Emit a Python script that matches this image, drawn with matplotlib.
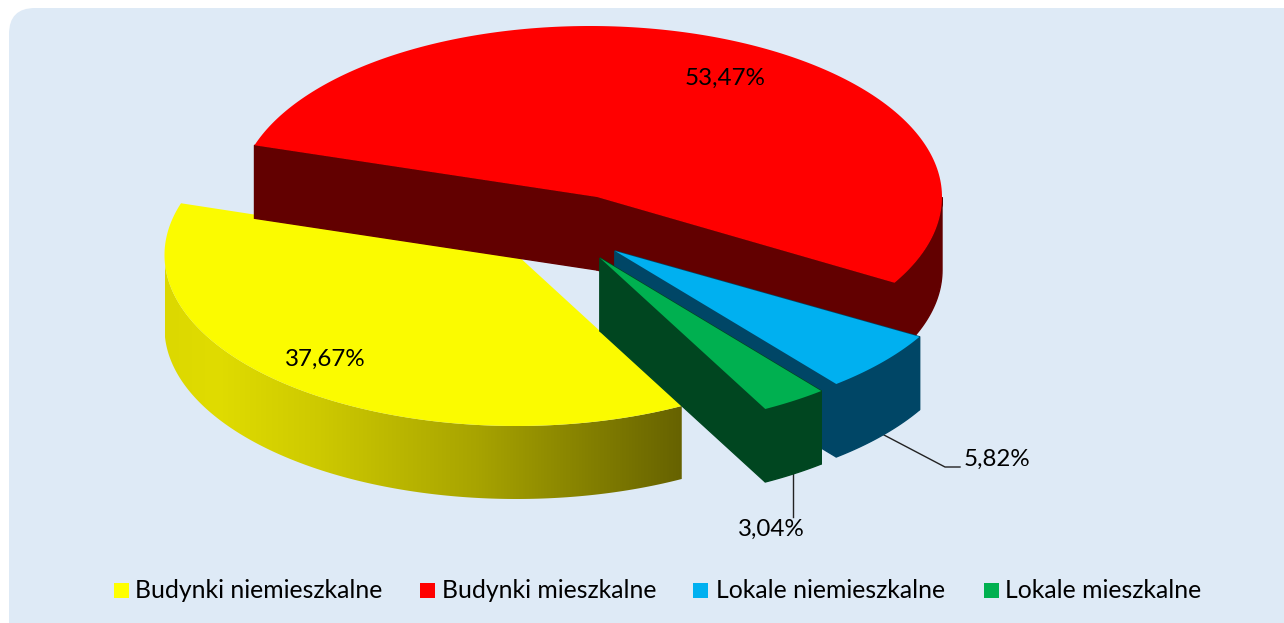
import matplotlib.pyplot as plt
import numpy as np
from matplotlib.colors import LinearSegmentedColormap
from matplotlib.patches import FancyBboxPatch, Polygon, Rectangle

W, H = 1284, 623

# data
categories = ['Budynki niemieszkalne', 'Budynki mieszkalne', 'Lokale niemieszkalne', 'Lokale mieszkalne']
shares = [37.67, 53.47, 5.82, 3.04]
share_labels = ['37,67%', '53,47%', '5,82%', '3,04%']

# styling
top_colors = ['#fbfb00', '#ff0000', '#00b0f0', '#00b050']
wall_colors = [None, '#620000', '#004666', '#004620']
legend_colors = ['#ffff00', '#ff0000', '#00b0f0', '#00b050']
apexes = [(517, 255), (597, 197), (615, 251), (600, 258)]  # exploded slice tips, pixels
centers = [(516.5, 255), (590, 197), (615, 251), (600, 258)]  # rim centres, pixels
label_pos = [(325, 359), (725, 78), (997, 459), (771, 529)]
legend_box_x = [114, 420, 693, 984]
legend_text_x = [135, 442, 716, 1005]

RX, RY = 352, 171
DEPTH = 73
START = 152.0  # clockwise from 12 o'clock, first slice

yellow_wall = LinearSegmentedColormap.from_list(
    'yellow_wall', [(0, '#dcd800'), (0.1, '#e0dc00'), (0.3, '#cdc900'), (0.6, '#a8a400'), (1, '#666200')])


def rim(center, a0, a1, n=200):
    t = np.radians(np.linspace(a0, a1, n))
    return center[0] + RX * np.sin(t), center[1] - RY * np.cos(t)


fig = plt.figure(figsize=(W / 100, H / 100), dpi=100)
ax = fig.add_axes([0, 0, 1, 1])
ax.set_xlim(0, W)
ax.set_ylim(H, 0)
ax.axis('off')

ax.add_patch(FancyBboxPatch((9 + 26, 8 + 26), W - 9 + 30 - 52, H - 8 + 30 - 52,
                            boxstyle='round,pad=26', facecolor='#deeaf6', edgecolor='none'))

angles = START + np.cumsum([0] + shares) * 3.6
for i in [1, 2, 3, 0]:  # back slices first, the yellow one hides the red wall
    a0, a1 = angles[i], angles[i + 1]
    apex = apexes[i]
    x, y = rim(centers[i], a0, a1)
    deg = np.linspace(a0, a1, 200)
    if wall_colors[i] is None:
        # outer wall with the horizontal shading
        keep = deg < 270
        wx, wy = x[keep], y[keep]
        verts = np.column_stack([np.r_[wx, wx[::-1]], np.r_[wy, wy[::-1] + DEPTH]])
        clip = Polygon(verts, facecolor='none', edgecolor='none')
        ax.add_patch(clip)
        im = ax.imshow(np.linspace(0, 1, 256)[None, :], cmap=yellow_wall, aspect='auto', zorder=1.5 + i,
                       extent=[wx.min(), wx.max(), wy.max() + DEPTH, wy.min()])
        im.set_clip_path(clip)
        ax.set_xlim(0, W)
        ax.set_ylim(H, 0)
    else:
        # cut faces and outer wall
        for ex, ey in [(x[0], y[0]), (x[-1], y[-1])]:
            ax.add_patch(Polygon([apex, (ex, ey), (ex, ey + DEPTH), (apex[0], apex[1] + DEPTH)],
                                 facecolor=wall_colors[i], edgecolor=wall_colors[i], lw=1, zorder=1.5 + i))
        vis = np.cos(np.radians(deg)) <= 0
        wx, wy = x[vis], y[vis]
        ax.add_patch(Polygon(np.column_stack([np.r_[wx, wx[::-1]], np.r_[wy, wy[::-1] + DEPTH]]),
                             facecolor=wall_colors[i], edgecolor=wall_colors[i], lw=1, zorder=1.5 + i))
    ax.add_patch(Polygon(np.column_stack([np.r_[apex[0], x], np.r_[apex[1], y]]),
                         facecolor=top_colors[i], edgecolor='none', zorder=1.6 + i))

# leader lines
ax.plot([884, 945, 960], [435, 467, 467], color='#222222', lw=1, zorder=2)
ax.plot([793, 793], [472, 517], color='#222222', lw=1, zorder=2)

for lab, (lx, ly) in zip(share_labels, label_pos):
    ax.text(lx, ly, lab, ha='center', va='center', fontsize=17.4, family='Lato', color='black', zorder=10)

for name, col, bx, tx in zip(categories, legend_colors, legend_box_x, legend_text_x):
    ax.add_patch(Rectangle((bx, 583), 15, 15, facecolor=col, edgecolor='none', zorder=10))
    ax.text(tx, 591, name, ha='left', va='center', fontsize=17.8, family='Lato', color='black', zorder=10)

fig.savefig('out.png', dpi=100, facecolor='white')
